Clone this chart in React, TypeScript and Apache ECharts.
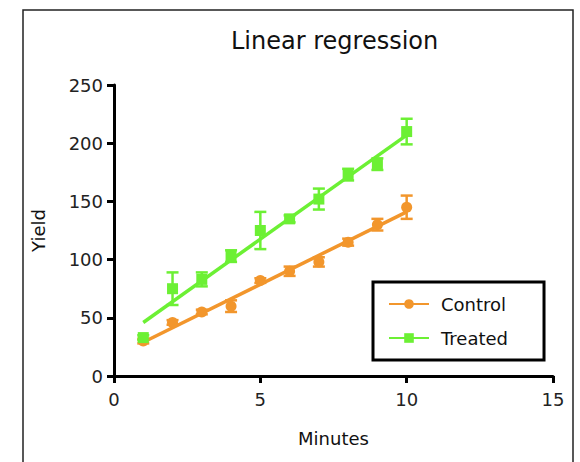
import React, { useEffect, useRef } from "react";
import * as echarts from "echarts";

const minutes = [1, 2, 3, 4, 5, 6, 7, 8, 9, 10];
const controlYield = [30, 46, 55, 60, 82, 90, 98, 115, 130, 145];
const controlErr = [2, 2, 2, 5, 2, 4, 4, 3, 5, 10];
const treatedYield = [33, 75, 83, 103, 125, 135, 152, 173, 182, 210];
const treatedErr = [2, 14, 6, 5, 16, 3, 9, 5, 5, 11];
const controlFit = [[1, 29], [10, 141]];
const treatedFit = [[1, 46], [10, 207]];
const xTicks = [0, 15, 5];
const yTicks = [0, 250, 50];

const ORANGE = "#F2962C";
const GREEN = "#6CF034";
const FONT = "DejaVu Sans";

function errData(ys: number[], es: number[]) {
  return minutes.map((x, i) => [x, ys[i] - es[i], ys[i] + es[i]]);
}

function errSeries(name: string, color: string, data: number[][]) {
  return {
    type: "custom",
    name,
    data,
    encode: { x: 0, y: [1, 2] },
    z: 3,
    renderItem: (params: any, api: any) => {
      const x = api.value(0);
      const lo = api.coord([x, api.value(1)]);
      const hi = api.coord([x, api.value(2)]);
      const hw = 6;
      const st = { stroke: color, lineWidth: 2.5 };
      return {
        type: "group",
        children: [
          { type: "line", shape: { x1: lo[0], y1: lo[1], x2: hi[0], y2: hi[1] }, style: st },
          { type: "line", shape: { x1: lo[0] - hw, y1: lo[1], x2: lo[0] + hw, y2: lo[1] }, style: st },
          { type: "line", shape: { x1: hi[0] - hw, y1: hi[1], x2: hi[0] + hw, y2: hi[1] }, style: st },
        ],
      };
    },
  };
}

export default function App() {
  const ref = useRef<HTMLDivElement>(null);
  useEffect(() => {
    const chart = echarts.init(ref.current!, null, { renderer: "svg" });
    const axisCommon = {
      axisLine: { show: true, onZero: false, lineStyle: { color: "#000", width: 3 } },
      axisTick: { show: true, inside: false, length: 7, lineStyle: { color: "#000", width: 3 } },
      splitLine: { show: false },
      nameTextStyle: { fontFamily: FONT, fontSize: 18, color: "#111" },
    };
    chart.setOption({
      animation: false,
      title: {
        text: "Linear regression",
        left: 226,
        top: 24,
        textStyle: { fontFamily: FONT, fontSize: 24, fontWeight: "normal", color: "#111" },
      },
      graphic: [
        {
          type: "rect",
          shape: { x: 23, y: 10, width: 550, height: 470 },
          style: { fill: "none", stroke: "#222", lineWidth: 1.5 },
          silent: true,
        },
      ],
      legend: {
        data: ["Control", "Treated"],
        orient: "vertical",
        left: 373,
        top: 282,
        padding: [13, 36, 13, 15],
        borderColor: "#000",
        borderWidth: 3,
        itemWidth: 40,
        itemHeight: 12,
        itemGap: 16,
        textStyle: { fontFamily: FONT, fontSize: 18, color: "#111", padding: [0, 0, 0, 7] },
      },
      grid: { left: 114, right: 27, top: 85, bottom: 86 },
      xAxis: {
        type: "value",
        min: xTicks[0],
        max: xTicks[1],
        interval: xTicks[2],
        name: "Minutes",
        nameLocation: "middle",
        nameGap: 53,
        ...axisCommon,
        axisLabel: { fontFamily: FONT, fontSize: 18, color: "#222", margin: 14 },
      },
      yAxis: {
        type: "value",
        min: yTicks[0],
        max: yTicks[1],
        interval: yTicks[2],
        name: "Yield",
        nameLocation: "middle",
        nameGap: 67,
        ...axisCommon,
        axisLabel: { fontFamily: FONT, fontSize: 18, color: "#222", margin: 11 },
      },
      series: [
        {
          type: "line",
          name: "Control",
          data: controlFit,
          symbol: "circle",
          symbolSize: 10,
          showSymbol: false,
          lineStyle: { color: ORANGE, width: 3.5 },
          itemStyle: { color: ORANGE },
          z: 2,
        },
        {
          type: "line",
          name: "Treated",
          data: treatedFit,
          symbol: "rect",
          symbolSize: 10,
          showSymbol: false,
          lineStyle: { color: GREEN, width: 3.5 },
          itemStyle: { color: GREEN },
          z: 2,
        },
        errSeries("Control", ORANGE, errData(controlYield, controlErr)),
        errSeries("Treated", GREEN, errData(treatedYield, treatedErr)),
        {
          type: "scatter",
          name: "Control",
          data: minutes.map((x, i) => [x, controlYield[i]]),
          symbol: "circle",
          symbolSize: 11,
          itemStyle: { color: ORANGE, opacity: 1 },
          z: 4,
        },
        {
          type: "scatter",
          name: "Treated",
          data: minutes.map((x, i) => [x, treatedYield[i]]),
          symbol: "rect",
          symbolSize: 11,
          itemStyle: { color: GREEN, opacity: 1 },
          z: 4,
        },
      ],
    });
    return () => chart.dispose();
  }, []);
  return (
    <div
      ref={ref}
      style={{ position: "absolute", left: 0, top: 0, width: 580, height: 462, background: "#fff" }}
    />
  );
}
